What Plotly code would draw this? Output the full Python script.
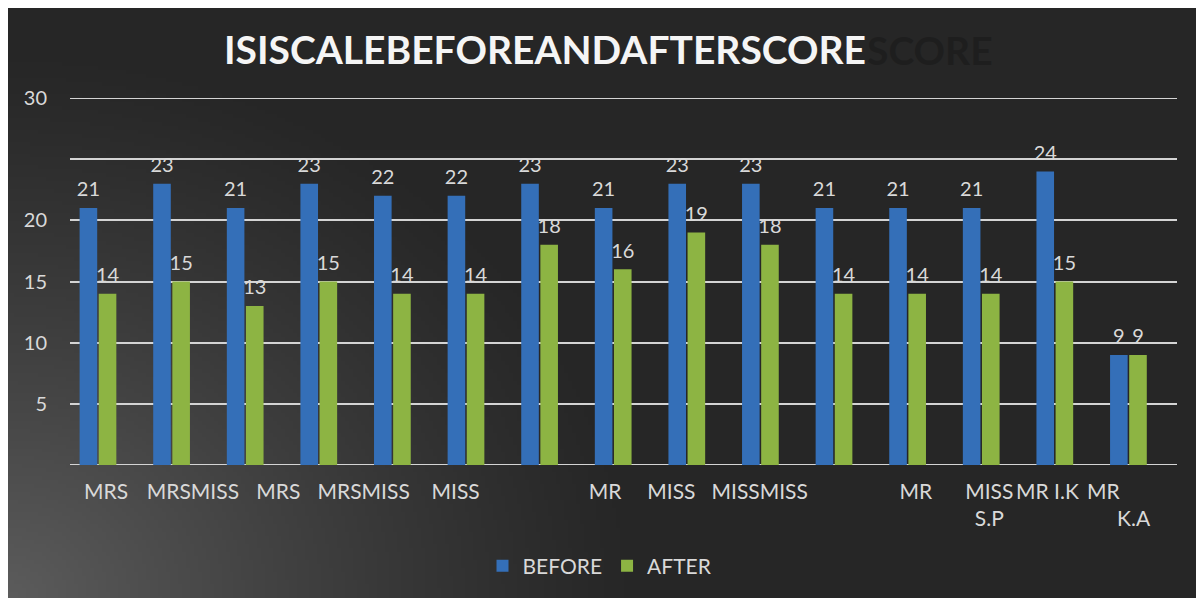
import base64, struct, zlib
import numpy as np
import plotly.graph_objects as go

# ---------------- data ----------------
categories = list(range(15))
before_vals = [21, 23, 21, 23, 22, 22, 23, 21, 23, 23, 21, 21, 21, 24, 9]
after_vals = [14, 15, 13, 15, 14, 14, 18, 16, 19, 18, 14, 14, 14, 15, 9]
x_tick_text = ["MRS", "MRSMISS", "MRS", "MRSMISS", "MISS", "MR", "MISS",
               "MISSMISS", "MR", "MISS<br>S.P", "MR I.K", "MR", "<br>K.A"]
y_tick_vals = [0, 5, 10, 15, 20, 25, 30]
y_tick_text = ["", "5", "10", "15", "20", "", "30"]
title_text = "ISISCALEBEFOREANDAFTERSCORE"

# ---------------- layout helpers ----------------
x_tick_pos = [0.11, 1.29, 2.45, 3.61, 4.86, 6.89, 7.79, 8.99, 11.11, 12.11, 12.90, 13.66, 14.07]
OFF = 8  # default page body margin
W, H = 1204 - OFF, 598 - OFF
L, R, T, B = 70 - OFF, 1177 - OFF, 98 - OFF, 465 - OFF
PW, PH = R - L, B - T
FONT = "Lato"
GRID = "#d4d4d4"


def make_png(arr):
    h, w, _ = arr.shape
    raw = b"".join(b"\x00" + arr[i].tobytes() for i in range(h))

    def chunk(tag, data):
        c = struct.pack(">I", len(data)) + tag + data
        return c + struct.pack(">I", zlib.crc32(tag + data) & 0xffffffff)

    png = b"\x89PNG\r\n\x1a\n"
    png += chunk(b"IHDR", struct.pack(">IIBBBBB", w, h, 8, 2, 0, 0, 0))
    png += chunk(b"IDAT", zlib.compress(raw, 9))
    png += chunk(b"IEND", b"")
    return "data:image/png;base64," + base64.b64encode(png).decode()


# radial background gradient, lighter towards the bottom-left corner
gw, gh = 300, 148
xs = np.linspace(0, W, gw)[None, :]
ys = np.linspace(0, H, gh)[:, None]
t = np.sqrt((xs / 640.0) ** 2 + ((H - ys) / 560.0) ** 2)
f = np.clip(1 - t, 0, 1) ** 1.2
val = 38 + (92 - 38) * f
img = np.repeat(val[:, :, None], 3, axis=2).astype(np.uint8)
bg_src = make_png(img)

label_font = dict(family=FONT, size=20, color="#d9d9d9")

fig = go.Figure()
for name, vals, color, grp in [("BEFORE", before_vals, "#346fb8", "b"),
                               ("AFTER", after_vals, "#8db443", "a")]:
    fig.add_trace(go.Bar(
        x=categories, y=vals, name=name, offsetgroup=grp,
        marker=dict(color=color, line=dict(width=0)),
    ))
for vals, grp in [(before_vals, "b"), (after_vals, "a")]:
    fig.add_trace(go.Scatter(
        x=categories, y=vals, mode="markers+text", text=[str(v) for v in vals],
        textposition="top center", textfont=label_font, offsetgroup=grp,
        marker=dict(size=9, color="rgba(0,0,0,0)"), showlegend=False,
        cliponaxis=False, hoverinfo="skip",
    ))

# edge grid lines (top and bottom of the value range)
edge_lines = [dict(type="line", xref="paper", yref="y", x0=0, x1=1,
                   y0=v, y1=v, line=dict(color=GRID, width=2), layer="below")
              for v in (y_tick_vals[0], y_tick_vals[-1])]

fig.update_layout(
    width=W, height=H,
    margin=dict(l=L, r=W - R, t=T, b=H - B, autoexpand=False),
    paper_bgcolor="#262626",
    plot_bgcolor="rgba(0,0,0,0)",
    barmode="group", bargap=0.48, bargroupgap=0.08,
    scattermode="group", scattergap=0.48,
    font=dict(family=FONT, color="#d9d9d9"),
    title=dict(
        text="<b>" + title_text + "</b>",
        font=dict(family=FONT, size=39, color="#f5f5f5"),
        x=(545 - OFF) / W, xanchor="center", xref="container",
        y=1 - (50 - OFF) / H, yanchor="middle", yref="container",
    ),
    legend=dict(
        orientation="h", x=(600 - OFF - L) / PW, xanchor="center",
        y=(B - (566 - OFF)) / PH, yanchor="middle",
        font=dict(family=FONT, size=21, color="#d9d9d9"),
        bgcolor="rgba(0,0,0,0)", traceorder="normal",
    ),
    xaxis=dict(
        range=[-0.38, 14.66], tickmode="array", tickvals=x_tick_pos,
        ticktext=x_tick_text, tickangle=0, showgrid=False, zeroline=False,
        showline=False, ticks="", automargin=False, ticklabelstandoff=12,
        tickfont=dict(family=FONT, size=21, color="#d9d9d9"),
    ),
    yaxis=dict(
        range=[0, 30], tickmode="array", tickvals=y_tick_vals,
        ticktext=y_tick_text, showgrid=True, gridcolor=GRID,
        gridwidth=2, zeroline=False, showline=False, ticks="",
        automargin=False, ticklabelstandoff=22,
        tickfont=dict(family=FONT, size=20, color="#d9d9d9"),
    ),
    shapes=edge_lines,
    images=[dict(
        source=bg_src, xref="paper", yref="paper",
        x=-L / PW, y=1 + T / PH, sizex=W / PW, sizey=H / PH,
        xanchor="left", yanchor="top", sizing="stretch", layer="below",
    )],
    annotations=[dict(
        text="<b>SCORE</b>", xref="paper", yref="paper",
        x=(930 - OFF - L) / PW, y=(B - (50 - OFF)) / PH, xanchor="center",
        yanchor="middle", showarrow=False,
        font=dict(family=FONT, size=39, color="#1e1e1e"),
    )],
    showlegend=True,
)

fig.write_html("out.html")
